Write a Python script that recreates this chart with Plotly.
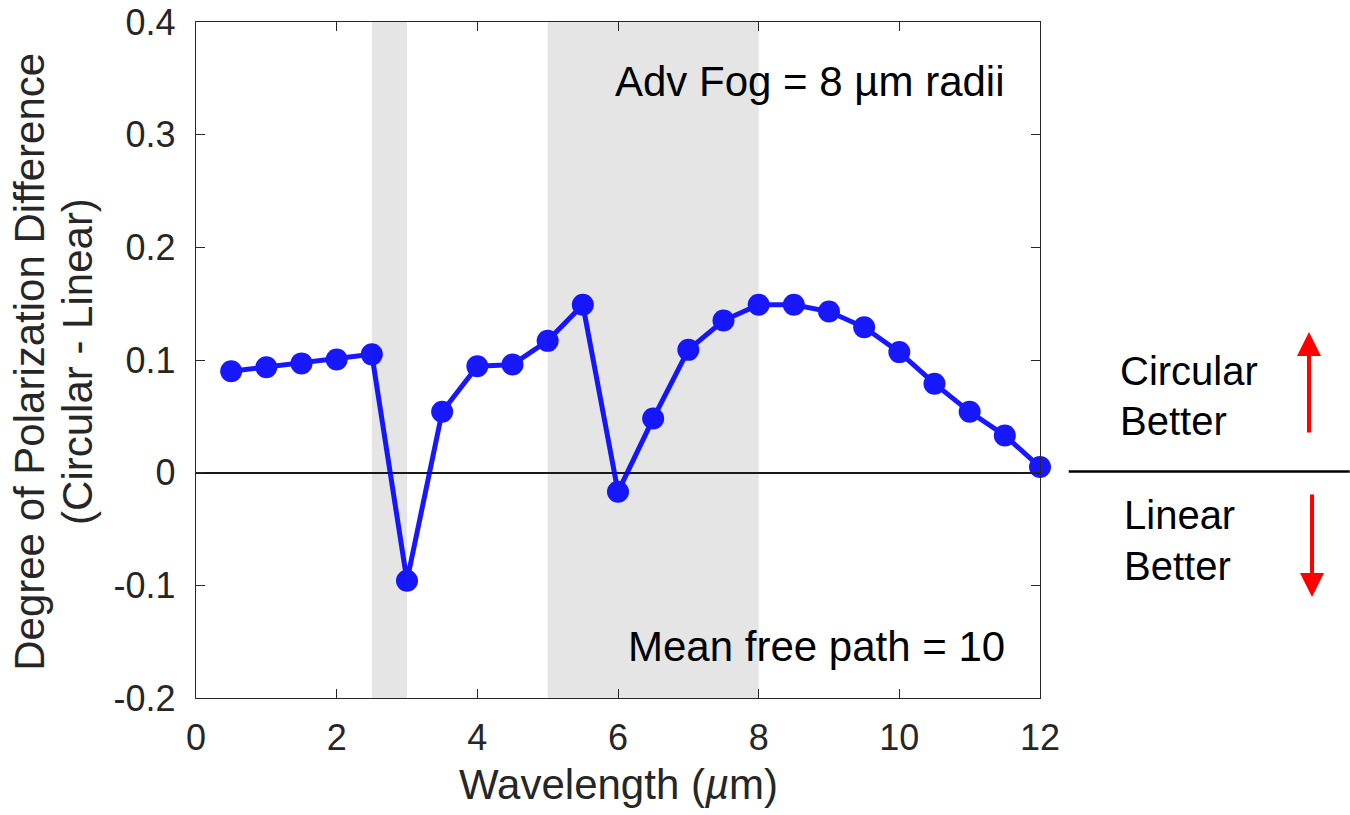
import plotly.graph_objects as go

# Wavelength samples (µm) and DOP difference (circular - linear)
wavelength = [0.5, 1.0, 1.5, 2.0, 2.5, 3.0, 3.5, 4.0, 4.5, 5.0, 5.5, 6.0,
              6.5, 7.0, 7.5, 8.0, 8.5, 9.0, 9.5, 10.0, 10.5, 11.0, 11.5, 12.0]
dop_diff = [0.090, 0.0935, 0.097, 0.1005, 0.105, -0.096, 0.054, 0.0945, 0.096,
            0.117, 0.149, -0.017, 0.048, 0.109, 0.135, 0.149, 0.149, 0.143,
            0.129, 0.107, 0.079, 0.054, 0.033, 0.005]

# Absorption bands shaded in the background
bands = [(2.5, 3.0), (5.0, 8.0)]

x_ticks = [0, 2, 4, 6, 8, 10, 12]
y_ticks = [-0.2, -0.1, 0, 0.1, 0.2, 0.3, 0.4]
y_tick_text = ["-0.2", "-0.1", "0", "0.1", "0.2", "0.3", "0.4"]

FONT = "Liberation Sans, Arial, Helvetica, sans-serif"
AXIS_GRAY = "#262626"

fig = go.Figure()

fig.add_trace(go.Scatter(
    x=wavelength, y=dop_diff, mode="lines+markers",
    line=dict(color="#0000ff", width=5),
    marker=dict(color="#0000ff", size=22),
    opacity=0.9, showlegend=False, hoverinfo="x+y", cliponaxis=False,
))

shapes = []
for x0, x1 in bands:
    shapes.append(dict(type="rect", xref="x", yref="paper", x0=x0, x1=x1,
                       y0=0, y1=1, fillcolor="#e5e5e5", line=dict(width=0),
                       layer="below"))

# Divider between the "better" labels on the right
shapes.append(dict(type="line", xref="paper", yref="y", x0=1.034, x1=1.367,
                   y0=0.001, y1=0.001, line=dict(color="black", width=2.5)))

annotations = [
    dict(text="Adv Fog = 8 µm radii", xref="paper", yref="y", x=0.961, y=0.347,
         xanchor="right", yanchor="middle", showarrow=False,
         font=dict(family=FONT, size=42, color="black")),
    dict(text="Mean free path = 10", xref="paper", yref="y", x=0.961, y=-0.1547,
         xanchor="right", yanchor="middle", showarrow=False,
         font=dict(family=FONT, size=42, color="black")),
    dict(text="Wavelength (<i>µ</i>m)", xref="paper", yref="paper", x=0.5, y=-0.128,
         xanchor="center", yanchor="middle", showarrow=False,
         font=dict(family=FONT, size=42, color=AXIS_GRAY)),
    dict(text="Degree of Polarization Difference", xref="paper", yref="y",
         x=-0.1975, y=0.0987, xanchor="center", yanchor="middle", textangle=-90,
         showarrow=False, font=dict(family=FONT, size=42, color=AXIS_GRAY)),
    dict(text="(Circular - Linear)", xref="paper", yref="y",
         x=-0.1405, y=0.0987, xanchor="center", yanchor="middle", textangle=-90,
         showarrow=False, font=dict(family=FONT, size=42, color=AXIS_GRAY)),
]

side_labels = [("Circular", 1.0924, 0.0902), ("Better", 1.0924, 0.0459),
               ("Linear", 1.0972, -0.0375), ("Better", 1.0972, -0.0828)]
for txt, xp, yv in side_labels:
    annotations.append(dict(text=txt, xref="paper", yref="y", x=xp, y=yv,
                            xanchor="left", yanchor="middle", showarrow=False,
                            font=dict(family=FONT, size=40, color="black")))

# Red arrows: up for circular, down for linear
annotations.append(dict(text="", xref="paper", yref="y", x=1.3187, y=0.1248,
                        ax=0, ay=102, showarrow=True, arrowhead=2, arrowsize=1.2,
                        arrowwidth=4, arrowcolor="#ff0000"))
annotations.append(dict(text="", xref="paper", yref="y", x=1.3223, y=-0.1104,
                        ax=0, ay=-104, showarrow=True, arrowhead=2, arrowsize=1.2,
                        arrowwidth=4, arrowcolor="#ff0000"))

axis_common = dict(showline=True, linecolor=AXIS_GRAY, linewidth=1.3,
                   mirror="ticks", ticks="inside", ticklen=9, tickwidth=1.3,
                   tickcolor=AXIS_GRAY, showgrid=False, automargin=False,
                   tickfont=dict(family=FONT, size=36, color=AXIS_GRAY))

fig.update_layout(
    width=1350, height=815,
    margin=dict(l=196, r=310, t=22, b=117),
    paper_bgcolor="white", plot_bgcolor="white",
    shapes=shapes, annotations=annotations,
    xaxis=dict(range=[0, 12], tickvals=x_ticks, zeroline=False,
               ticklabelstandoff=8, **axis_common),
    yaxis=dict(range=[-0.2, 0.4], tickvals=y_ticks, ticktext=y_tick_text,
               zeroline=True, zerolinecolor="#1a1a1a", zerolinewidth=1.5,
               ticklabelstandoff=12, **axis_common),
)

fig.write_html("out.html")
